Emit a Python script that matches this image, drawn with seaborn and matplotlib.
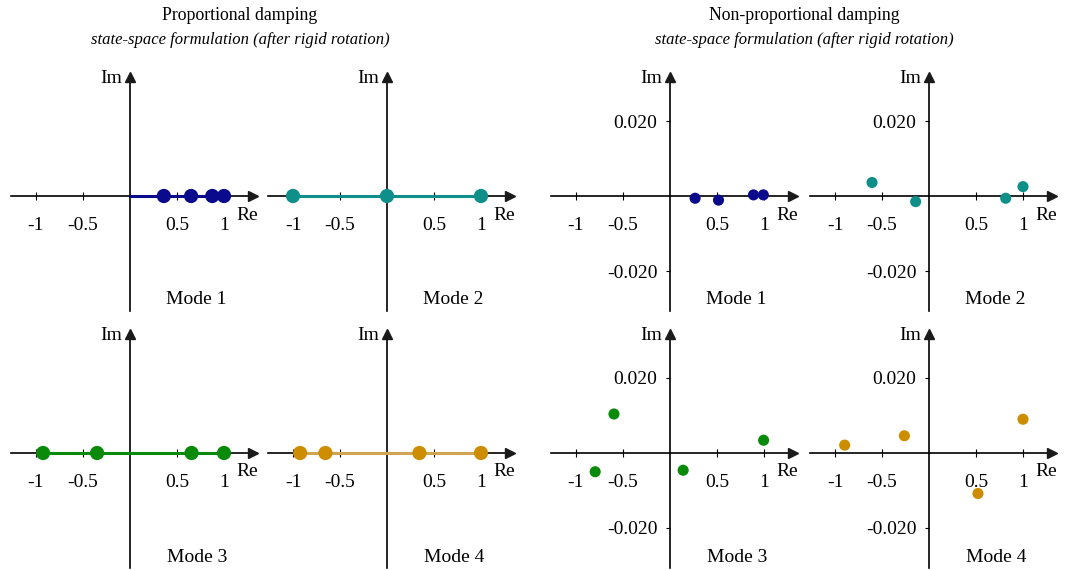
import numpy as np
import pandas as pd
import matplotlib
matplotlib.use("Agg")
import matplotlib.pyplot as plt
import seaborn as sns

# ---------------- data ----------------
mode_names = ["Mode 1", "Mode 2", "Mode 3", "Mode 4"]
mode_colors = ["#0a0a8c", "#0e8f8a", "#0a8a0a", "#cd8d00"]
line_colors = ["#0a0a8c", "#0e8f8a", "#0a8a0a", "#cfa552"]

# proportional damping: purely real mode shapes
prop_re_1 = [0.36, 0.65, 0.875, 1.0]
prop_re_2 = [-1.0, 0.0, 1.0]
prop_re_3 = [-0.925, -0.35, 0.655, 1.0]
prop_re_4 = [-0.924, -0.655, 0.345, 1.0]

# non-proportional damping: complex mode shapes
nonprop_re_1 = [0.267, 0.516, 0.888, 0.993]
nonprop_im_1 = [-0.0006, -0.0011, 0.0003, 0.0003]
nonprop_re_2 = [-0.606, -0.142, 0.816, 1.0]
nonprop_im_2 = [0.0036, -0.0015, -0.0006, 0.0025]
nonprop_re_3 = [-0.796, -0.596, 0.140, 0.996]
nonprop_im_3 = [-0.0050, 0.0104, -0.0046, 0.0034]
nonprop_re_4 = [-0.897, -0.262, 0.521, 1.0]
nonprop_im_4 = [0.0021, 0.0046, -0.0108, 0.0090]

x_ticks = [-1, -0.5, 0.5, 1]
x_tick_labels = ["-1", "-0.5", "0.5", "1"]
y_ticks = [-0.02, 0.02]
y_tick_labels = ["-0.020", "0.020"]

titles = ["Proportional damping", "Non-proportional damping"]
subtitle = "state-space formulation (after rigid rotation)"

# ---------------- style ----------------
sns.set_theme(style="white")
plt.rcParams["font.family"] = ["Liberation Serif", "DejaVu Serif"]
plt.rcParams["axes.unicode_minus"] = False
plt.rcParams["text.color"] = "black"
plt.rcParams["xtick.color"] = "black"
plt.rcParams["ytick.color"] = "black"

W, H = 1074, 570
fig = plt.figure(figsize=(W / 100, H / 100), dpi=100)

SX, SY = 94.0, 3750.0           # pixels per unit
XL = (-1.27, 1.31)
YL = (-0.0307, 0.0318)

FS = 14


def make_axes(ox, oy):
    left = ox + XL[0] * SX
    right = ox + XL[1] * SX
    top = oy - YL[1] * SY
    bottom = oy - YL[0] * SY
    ax = fig.add_axes([left / W, (H - bottom) / H, (right - left) / W, (bottom - top) / H])
    ax.set_xlim(*XL)
    ax.set_ylim(*YL)
    ax.patch.set_alpha(0)
    for s in ["top", "right"]:
        ax.spines[s].set_visible(False)
    ax.spines["bottom"].set_position(("data", 0))
    ax.spines["left"].set_position(("data", 0))
    for s in ["bottom", "left"]:
        ax.spines[s].set_color("black")
        ax.spines[s].set_linewidth(1.2)
        ax.spines[s].set_zorder(1)
    # arrow heads
    ax.plot(1, 0, marker=">", color="k", markersize=7, transform=ax.get_yaxis_transform(),
            clip_on=False, zorder=2)
    ax.plot(0, 1, marker="^", color="k", markersize=7, transform=ax.get_xaxis_transform(),
            clip_on=False, zorder=2)
    ax.set_xticks(x_ticks)
    ax.set_xticklabels(x_tick_labels)
    ax.tick_params(axis="x", bottom=True, direction="inout", length=6, width=0.8, pad=12,
                   labelsize=FS, colors="black")
    ax.text(-8 / SX, YL[1] - 2 / SY, "Im", ha="right", va="center", fontsize=FS)
    ax.text((247 - 130) / SX, -19 / SY, "Re", ha="center", va="center", fontsize=FS)
    ax.set_xlabel("")
    ax.set_ylabel("")
    return ax


top_y, bot_y = 196, 453
xs = [130, 387, 670, 929]

prop_list = [prop_re_1, prop_re_2, prop_re_3, prop_re_4]
nonprop_list = [(nonprop_re_1, nonprop_im_1), (nonprop_re_2, nonprop_im_2),
                (nonprop_re_3, nonprop_im_3), (nonprop_re_4, nonprop_im_4)]

for i in range(4):
    row = i // 2
    col = i % 2
    oy = top_y if row == 0 else bot_y

    # proportional
    ax = make_axes(xs[col], oy)
    ax.set_yticks([])
    re = prop_list[i]
    line_x = sorted(set([0.0] + list(re)))
    df_line = pd.DataFrame({"re": line_x, "im": [0.0] * len(line_x)})
    sns.lineplot(data=df_line, x="re", y="im", ax=ax, color=line_colors[i], lw=2.2,
                 zorder=3, estimator=None)
    df = pd.DataFrame({"re": re, "im": [0.0] * len(re)})
    sns.scatterplot(data=df, x="re", y="im", ax=ax, color=mode_colors[i], s=105,
                    edgecolor="none", zorder=4, legend=False)
    ax.set_xlabel(""); ax.set_ylabel("")
    ax.text(0.71, -104 / SY, mode_names[i], ha="center", va="center", fontsize=FS)

    # non-proportional
    ax = make_axes(xs[2 + col], oy)
    ax.set_yticks(y_ticks)
    ax.set_yticklabels(y_tick_labels)
    ax.tick_params(axis="y", left=True, direction="out", length=3, width=0.8, pad=6,
                   labelsize=FS, colors="black")
    re, im = nonprop_list[i]
    df = pd.DataFrame({"re": re, "im": im})
    sns.scatterplot(data=df, x="re", y="im", ax=ax, color=mode_colors[i], s=64,
                    edgecolor="none", zorder=4, legend=False)
    ax.set_xlabel(""); ax.set_ylabel("")
    ax.text(0.71, -104 / SY, mode_names[i], ha="center", va="center", fontsize=FS)

# titles
for cx, t in zip([240, 804], titles):
    fig.text(cx / W, 1 - 16 / H, t, ha="center", va="center", fontsize=12.8)
    fig.text(cx / W, 1 - 40 / H, subtitle, ha="center", va="center", fontsize=12,
             style="italic")

fig.savefig("out.png", dpi=100)
